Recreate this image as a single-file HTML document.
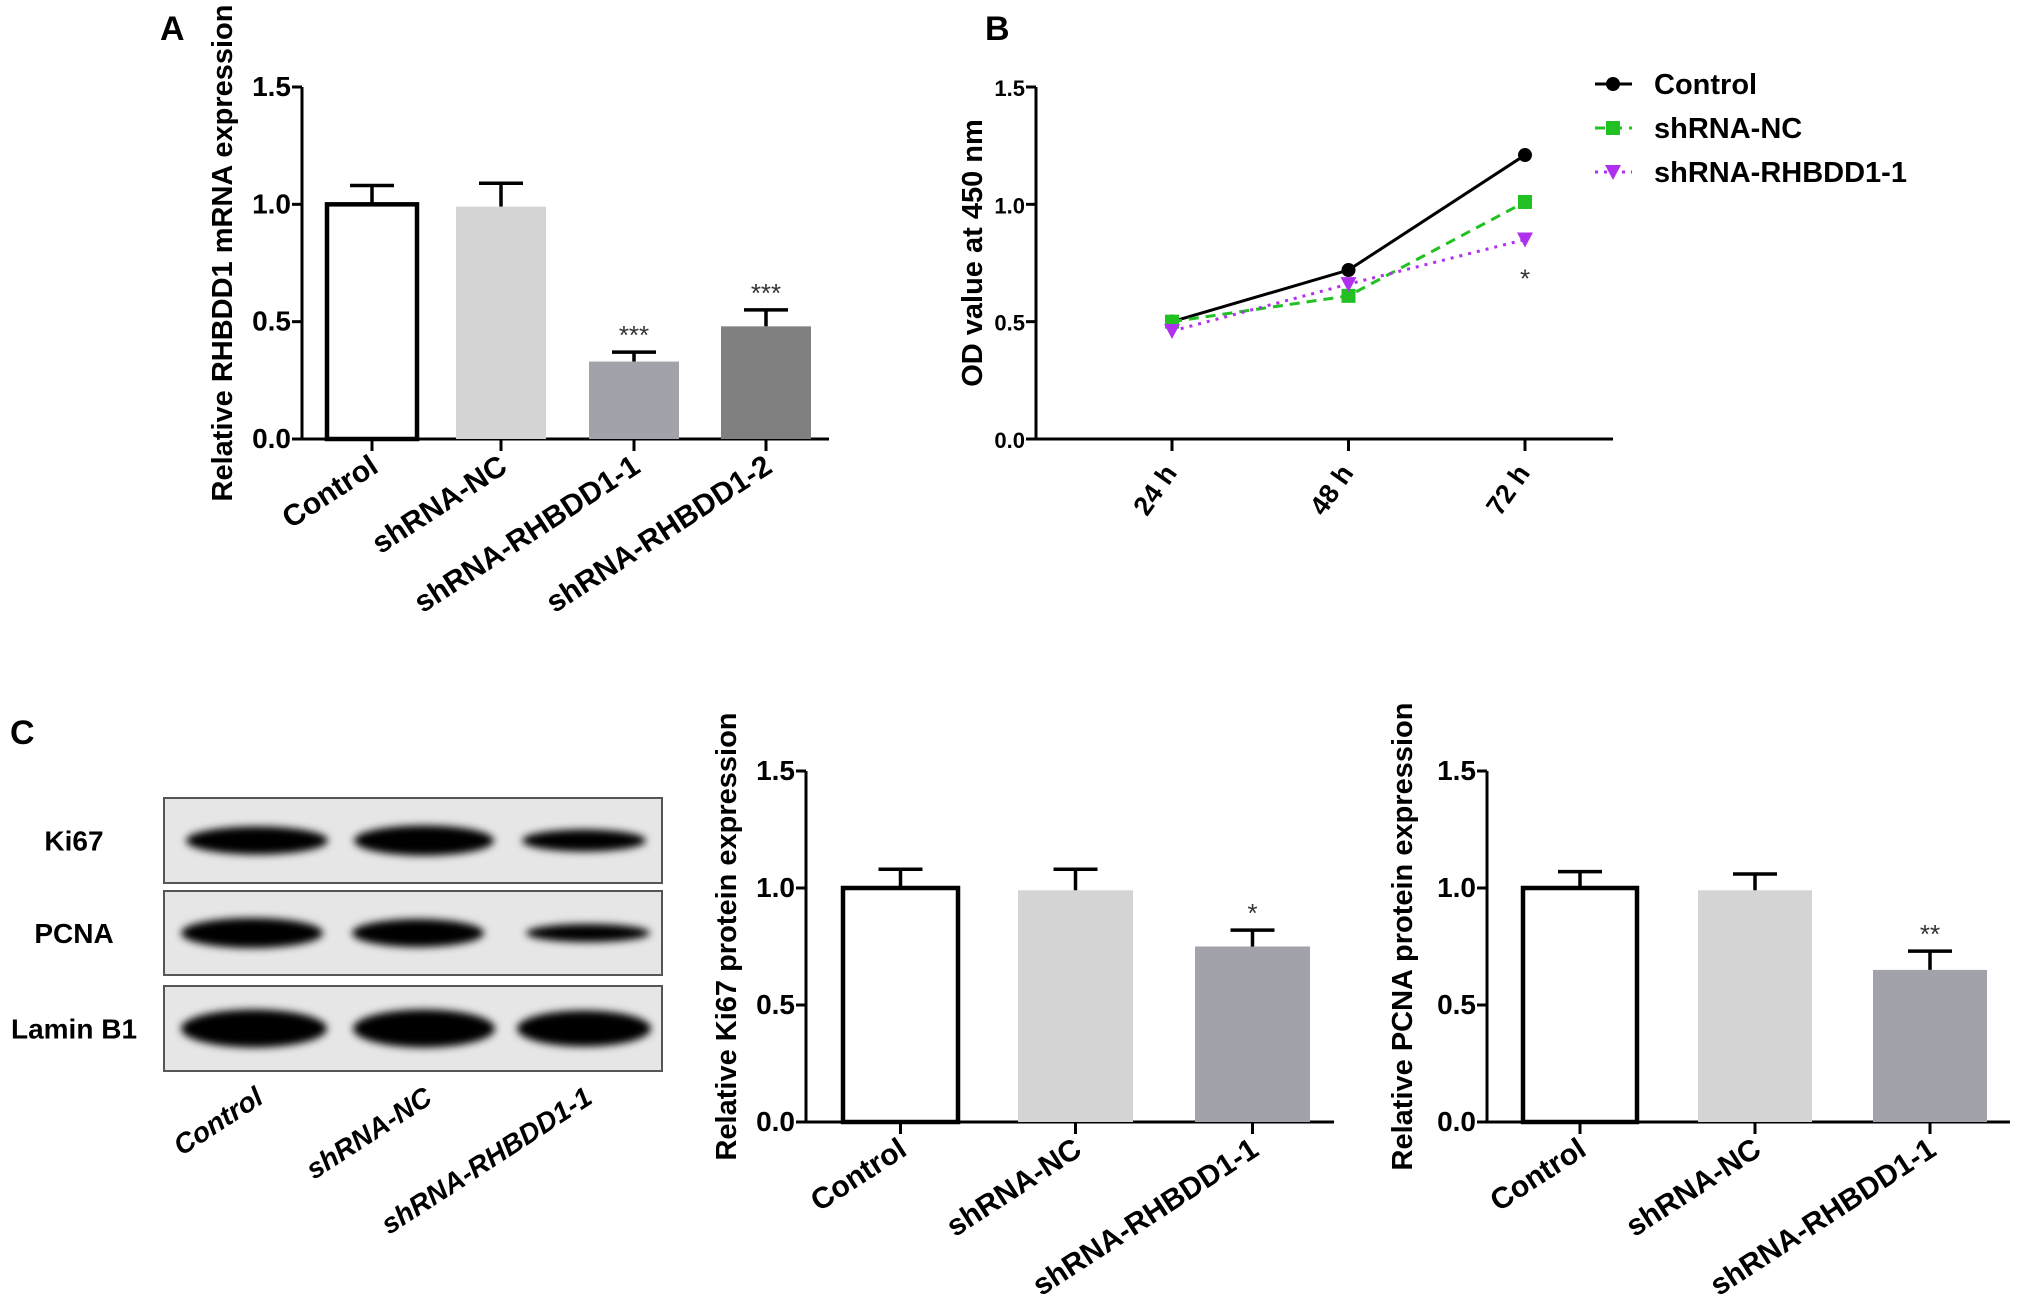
<!DOCTYPE html>
<html><head><meta charset="utf-8"><style>
html,body{margin:0;padding:0;background:#fff;}
svg{display:block;font-family:"Liberation Sans",Arial,sans-serif;}
</style></head><body>
<svg id="fig" width="2031" height="1302" viewBox="0 0 2031 1302">
<defs><filter id="blur" x="-20%" y="-50%" width="140%" height="200%"><feGaussianBlur stdDeviation="4"/></filter></defs>
<g id="root"></g>
</svg>
<script>
// Panel A data
const catsA = ["Control","shRNA-NC","shRNA-RHBDD1-1","shRNA-RHBDD1-2"];
const valsA = [1.0, 0.99, 0.33, 0.48];
const errA = [0.08, 0.10, 0.04, 0.07];
const sigA = ["", "", "***", "***"];
// Panel B data
const timesB = ["24 h","48 h","72 h"];
const seriesNames = ["Control","shRNA-NC","shRNA-RHBDD1-1"];
const ctrlB = [0.50, 0.72, 1.21];
const ncB = [0.50, 0.61, 1.01];
const r1B = [0.46, 0.66, 0.85];
// Panel C data
const catsC = ["Control","shRNA-NC","shRNA-RHBDD1-1"];
const ki67Vals = [1.0, 0.99, 0.75];
const ki67Err = [0.08, 0.09, 0.07];
const ki67Sig = ["", "", "*"];
const pcnaVals = [1.0, 0.99, 0.65];
const pcnaErr = [0.07, 0.07, 0.08];
const pcnaSig = ["", "", "**"];
const ticks = ["0.0","0.5","1.0","1.5"];

const NS="http://www.w3.org/2000/svg";
const root=document.getElementById('root');
function el(tag,attrs,parent,text){const e=document.createElementNS(NS,tag);for(const k in attrs)e.setAttribute(k,attrs[k]);if(text!==undefined)e.textContent=text;(parent||root).appendChild(e);return e;}

function axes(g,x0,y0,y1,xend,title,titleX,tickFs){
  const ys=v=>y0-(v/1.5)*(y0-y1);
  const ya=el('line',{x1:x0,y1:y0,x2:x0,y2:y1,stroke:'#000','stroke-width':3},g);
  
  
  const xa=el('line',{x1:x0-10,y1:y0,x2:xend,y2:y0,stroke:'#000','stroke-width':3},g);
  
  
  ticks.forEach(t=>{const y=ys(parseFloat(t));
    el('line',{x1:x0-10,y1:y,x2:x0,y2:y,stroke:'#000','stroke-width':3},g);
    const tl=el('text',{x:x0-11,y:y+9,'text-anchor':'end','font-size':tickFs||28,'font-weight':'bold'},g,t);
    
    
  });
  const cy=(y0+y1)/2-10;
  const tt=el('text',{x:titleX,y:cy,'text-anchor':'middle','font-size':29,'font-weight':'bold',transform:`rotate(-90 ${titleX} ${cy})`},g,title);
  
  
  return ys;
}

function barChart(name,x0,y0,y1,xend,cats,vals,errs,sigs,lefts,bw,fills,title,titleX,rot){
  const g=el('g',{});
  
  
  const ys=axes(g,x0,y0,y1,xend,title,titleX);
  cats.forEach((c,i)=>{
    const xl=lefts[i],xc=xl+bw/2;
    const top=ys(vals[i]);
    const et=ys(vals[i]+errs[i]);
    el('line',{x1:xc,y1:top,x2:xc,y2:et,stroke:'#000','stroke-width':3.5},g);
    el('line',{x1:xc-22,y1:et,x2:xc+22,y2:et,stroke:'#000','stroke-width':3.5},g);
    const r=el('rect',{x:xl,y:top,width:bw,height:y0-top,fill:fills[i],stroke:fills[i]==='#fff'?'#000':'none','stroke-width':4.5},g);
    
    
    el('line',{x1:xc,y1:y0,x2:xc,y2:y0+12,stroke:'#000','stroke-width':3},g);
    if(sigs[i]){const s=el('text',{x:xc,y:et-8,'text-anchor':'middle','font-size':26,fill:'#333'},g,sigs[i]);
      
      }
    const tx=xc+8,ty=y0+32;
    const l=el('text',{x:tx,y:ty,'text-anchor':'end','font-size':30,'font-weight':'bold',transform:`rotate(${rot} ${tx} ${ty})`},g,c);
    
    
  });
}

function letter(t,x,y){const e=el('text',{x:x,y:y,'font-size':34,'font-weight':'bold'},root,t);
  
  }
letter('A',160,40);letter('B',985,40);letter('C',10,744);

// Panel A
barChart('chart-a-mrna',302,439,87,829,catsA,valsA,errA,sigA,[327,456,589,721],90,['#fff','#d4d4d4','#a2a2aa','#808080'],'Relative RHBDD1 mRNA expression',232,-33);

// Panel B
(function(){
  const g=el('g',{});
  
  
  const x0=1036,y0=439,y1=87,xend=1613;
  const ys=axes(g,x0,y0,y1,xend,'OD value at 450 nm',982,22);
  const xpos=[1172,1348,1525];
  const xs=i=>xpos[0]+i*(xpos[2]-xpos[0])/(timesB.length-1);
  timesB.forEach((t,i)=>{
    el('line',{x1:xs(i),y1:y0,x2:xs(i),y2:y0+12,stroke:'#000','stroke-width':3},g);
    const tx=xs(i)+6,ty=y0+34;
    const l=el('text',{x:tx,y:ty,'text-anchor':'end','font-size':27,'font-weight':'bold',transform:`rotate(-55 ${tx} ${ty})`},g,t);
    
    
  });
  const series=[[ctrlB,'#000','none','circle'],[ncB,'#22c022','10 7','square'],[r1B,'#b030f0','3 6','tri']];
  function marker(x,y,type,col,p){
    if(type==='circle')return el('circle',{cx:x,cy:y,r:7,fill:col},p);
    if(type==='square')return el('rect',{x:x-7,y:y-7,width:14,height:14,fill:col},p);
    return el('polygon',{points:`${x-8},${y-7} ${x+8},${y-7} ${x},${y+8}`,fill:col},p);
  }
  series.forEach((s,k)=>{
    const pts=s[0].map((v,i)=>xs(i)+','+ys(v)).join(' ');
    const pl=el('polyline',{points:pts,fill:'none',stroke:s[1],'stroke-width':3,'stroke-dasharray':s[2]},g);
    
    
    s[0].forEach((v,i)=>{const m=marker(xs(i),ys(v),s[3],s[1],g);
      
      });
    const ly=84+k*44;
    el('line',{x1:1595,y1:ly,x2:1632,y2:ly,stroke:s[1],'stroke-width':3,'stroke-dasharray':s[2]},g);
    marker(1613,ly,s[3],s[1],g);
    const lt=el('text',{x:1654,y:ly+10,'font-size':29,'font-weight':'bold'},g,seriesNames[k]);
    
    
  });
  const st=el('text',{x:xs(2),y:ys(r1B[2])+48,'text-anchor':'middle','font-size':26,fill:'#333'},g,'*');
  
  
})();

// Western blot
(function(){
  const g=el('g',{});
  
  
  const rows=[["Ki67",798,883,[[257,142,28],[424,140,30],[584,124,22]]],
              ["PCNA",891,975,[[252,142,30],[418,132,28],[588,124,18]]],
              ["Lamin B1",986,1071,[[254,146,38],[424,142,38],[584,134,36]]]];
  rows.forEach(r=>{
    const b=el('rect',{x:164,y:r[1],width:498,height:r[2]-r[1],fill:'#e6e6e6',stroke:'#555','stroke-width':2},g);
    
    
    const cy=(r[1]+r[2])/2;
    r[3].forEach(bd=>el('ellipse',{cx:bd[0],cy:cy,rx:bd[1]/2,ry:bd[2]/2,fill:'#000',filter:'url(#blur)'},g));
    const t=el('text',{x:74,y:cy+10,'text-anchor':'middle','font-size':28,'font-weight':'bold'},g,r[0]);
    
    
  });
  [255,424,584].forEach((x,i)=>{const tx=x+10,ty=1102;
    const t=el('text',{x:tx,y:ty,'text-anchor':'end','font-size':28,'font-weight':'bold','font-style':'italic',transform:`rotate(-33 ${tx} ${ty})`},g,catsC[i]);
    
    });
})();

barChart('chart-c-ki67',806,1122,771,1334,catsC,ki67Vals,ki67Err,ki67Sig,[843,1018,1195],115,['#fff','#d4d4d4','#a2a2aa'],'Relative Ki67 protein expression',736,-33);
barChart('chart-c-pcna',1487,1122,771,2010,catsC,pcnaVals,pcnaErr,pcnaSig,[1523,1698,1873],114,['#fff','#d4d4d4','#a2a2aa'],'Relative PCNA protein expression',1412,-33);
</script>
</body></html>
